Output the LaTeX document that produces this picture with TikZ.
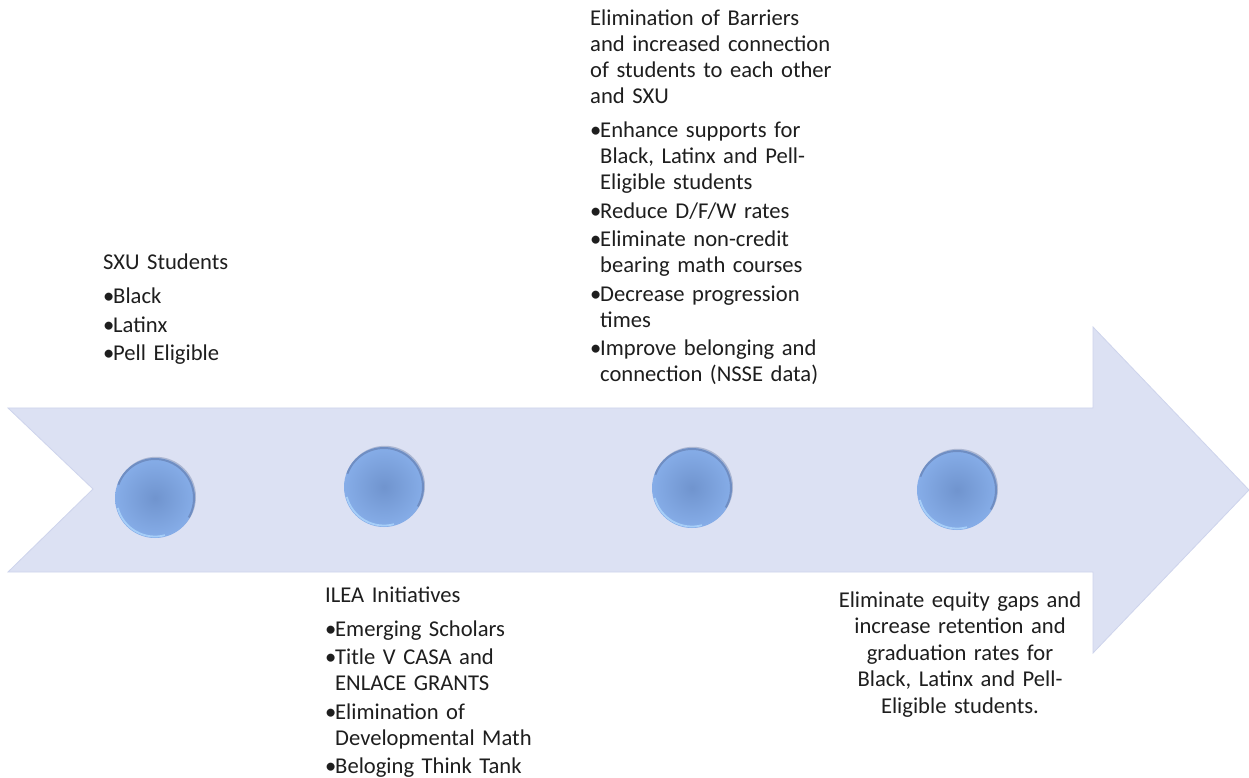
\documentclass[tikz,border=0pt]{standalone}
\usepackage{fontspec}
\setmainfont{Carlito}
\definecolor{arrowfill}{RGB}{220,225,243}
\definecolor{arrowedge}{RGB}{206,212,236}
\definecolor{dotin}{RGB}{112,148,206}
\definecolor{dotout}{RGB}{134,173,232}
\definecolor{rimdark}{RGB}{85,105,150}
\definecolor{rimlight}{RGB}{170,210,250}
\definecolor{txt}{RGB}{30,30,30}
\newcommand\hdr[1]{\noindent #1\par\vspace{5.5pt}}
\newcommand\itm[1]{\par\vspace{2.5pt}\noindent\hangindent=10pt\hangafter=1\makebox[10pt][l]{\textbullet}#1\par}
\tikzset{
  dot/.style={circle, minimum size=80pt, inner sep=0pt, inner color=dotin, outer color=dotout,
    preaction={fill=rimdark, opacity=0.35, transform canvas={xshift=1pt,yshift=1.2pt}}},
  blk/.style={anchor=base west, inner sep=0pt, text width=280pt, text=txt,
    font=\fontsize{22.6}{26}\selectfont},
  cblk/.style={anchor=base, inner sep=0pt, text width=300pt, align=center, text=txt,
    font=\fontsize{22.6}{26.5}\selectfont},
}
\begin{document}
\begin{tikzpicture}[x=1pt,y=1pt]
\useasboundingbox (0,0) rectangle (1249,777);
\fill[white] (0,0) rectangle (1249,777);
% big arrow
\filldraw[fill=arrowfill, draw=arrowedge, line width=0.8pt]
  (8,369) -- (1093,369) -- (1093,450) -- (1249,287) -- (1093,124) -- (1093,205)
  -- (8,205) -- (93,288) -- cycle;
% dots
\node[dot] (c1) at (155,279) {};
\node[dot] (c2) at (384,290) {};
\node[dot] (c3) at (692,289) {};
\node[dot] (c4) at (957,287) {};
\foreach \n in {c1,c2,c3,c4}{
  \draw[rimdark, line width=2pt, opacity=0.45, shift={(\n.center)}] (160:39pt) arc (160:-30:39pt);
  \draw[rimlight, line width=1.8pt, opacity=0.9, shift={(\n.center)}] (195:38.5pt) arc (195:285:38.5pt);
}
% texts
\node[blk] (t1) at (103,507) {\hdr{SXU Students}\itm{Black}\itm{Latinx}\itm{Pell Eligible}};
\node[blk] (t2) at (590,751) {\hdr{Elimination of Barriers\newline and increased connection\newline of students to each other\newline and SXU}%
  \itm{Enhance supports for\newline Black, Latinx and Pell-\newline Eligible students}%
  \itm{Reduce D/F/W rates}%
  \itm{Eliminate non-credit\newline bearing math courses}%
  \itm{Decrease progression\newline times}%
  \itm{Improve belonging and\newline connection (NSSE data)}};
\node[blk] (t3) at (325,175) {\hdr{ILEA Initiatives}\itm{Emerging Scholars}%
  \itm{Title V CASA and\newline ENLACE GRANTS}%
  \itm{Elimination of\newline Developmental Math}%
  \itm{Beloging Think Tank}};
\node[cblk] (t4) at (960,170) {Eliminate equity gaps and\\ increase retention and\\ graduation rates for\\ Black, Latinx and Pell-\\ Eligible students.};
\end{tikzpicture}
\end{document}
